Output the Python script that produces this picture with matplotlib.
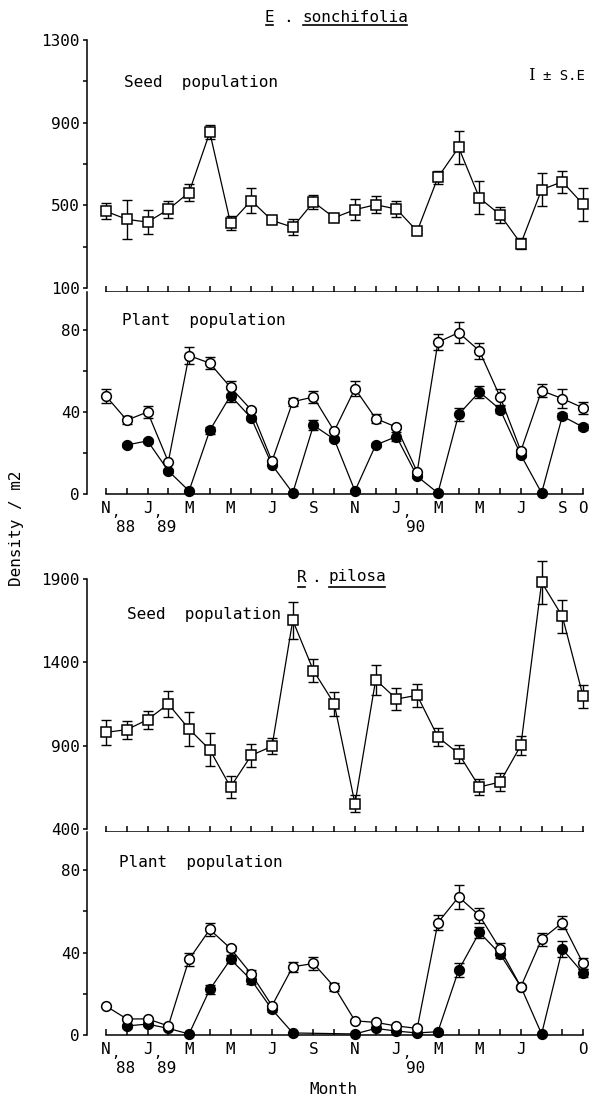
import numpy as np
import matplotlib
matplotlib.use('Agg')
from matplotlib import pyplot as plt
from matplotlib.lines import Line2D

plt.rcParams['font.family'] = ['DejaVu Sans Mono', 'DejaVu Sans']
plt.rcParams['font.size'] = 11.5

nan = np.nan
months = np.arange(24)
# Nov 1988 .. Oct 1990
label_pos = [0, 2, 4, 6, 8, 10, 12, 14, 16, 18, 20, 22, 23]
labels_top = ['N', 'J', 'M', 'M', 'J', 'S', 'N', 'J', 'M', 'M', 'J', 'S', 'O']
labels_bot = ['N', 'J', 'M', 'M', 'J', 'S', 'N', 'J', 'M', 'M', 'J', '', 'O']
year_pos = [0, 2, 14]
year_txt = ['88', '89', '90']

# E. sonchifolia
es_seed = np.array([471, 432, 419, 480, 562, 853, 414, 523, 427, 394, 516, 440,
                    479, 503, 482, 375, 635, 780, 536, 454, 315, 576, 614, 505])
es_seed_se = np.array([39, 95, 60, 39, 40, 34, 35, 60, 10, 40, 35, 10,
                       50, 40, 40, 8, 30, 78, 80, 40, 25, 80, 52, 80])
es_open = np.array([47.7, 36, 40, 15.7, 67.5, 63.8, 52, 41, 16, 45, 47.3, 30.7,
                    51.4, 36.8, 32.6, 10.8, 74, 78.7, 69.8, 47.3, 21, 50.4, 46.5, 42])
es_open_se = np.array([3.5, 2, 3, 0, 4, 3, 3, 1, 0, 2, 3, 0,
                       3.5, 2, 1, 0, 4, 5, 4, 4, 1, 3, 4.5, 3])
es_fill = np.array([nan, 23.9, 25.9, 11.3, 1.5, 31, 48, 37, 14.2, 0.5, 33.5, 26.7,
                    1.5, 23.9, 28, 8.6, 0.5, 38.8, 49.8, 41.2, 19, 0.5, 38, 32.6])
es_fill_se = np.array([0, 1, 1, 1, 0, 1.5, 3, 1, 0, 0, 2.5, 1,
                       0, 1, 2, 1, 0, 3, 3, 1.5, 1, 0, 1.5, 1.5])

# R. pilosa
rp_seed = np.array([980, 996, 1056, 1150, 1000, 876, 652, 842, 896, 1652, 1350, 1152,
                    552, 1296, 1180, 1202, 952, 852, 652, 682, 902, 1880, 1676, 1196])
rp_seed_se = np.array([75, 53, 53, 77, 100, 100, 65, 67, 48, 110, 69, 73,
                       50, 89, 66, 67, 53, 55, 49, 52, 56, 127, 101, 67])
rp_open = np.array([14, 7.8, 7.8, 4.4, 36.7, 51.2, 42, 29.6, 14.2, 33.1, 34.7, 23.4,
                    6.9, 6.1, 4.4, 3.2, 54.5, 67, 58, 41.7, 23.4, 46.4, 54.5, 34.7])
rp_open_se = np.array([0, 0, 0, 0, 3, 3, 1, 2, 0, 2.5, 3, 2,
                       0, 0, 0, 0, 3.5, 6, 3.5, 3, 0, 3, 3, 2.5])
rp_fill = np.array([nan, 4.4, 5.3, 3.2, 0.5, 22.1, 36.7, 26.7, 12.4, 1, nan, nan,
                    0.5, 3.2, 1.9, 1, 1.6, 31.5, 49.8, 39.3, 23.4, 0.5, 41.7, 30])
rp_fill_se = np.array([0, 1, 1, 0, 0, 2, 2, 2, 1, 0, 0, 0,
                       0, 0, 0, 0, 0, 3.5, 2.5, 2, 0, 0, 4, 2])

W, H = 589, 1099
L, R = 87, 586


def rect(top, bot):
    return [L / W, 1 - bot / H, (R - L) / W, (bot - top) / H]


def fx(x):
    return x / W


def fy(y):
    return 1 - y / H


def series(ax, y, se, marker, face, z):
    m = ~np.isnan(y)
    ax.errorbar(months[m], y[m], yerr=se[m], fmt='none', ecolor='k', elinewidth=1,
                capsize=3.5, capthick=1, clip_on=False, zorder=z)
    ax.plot(months[m], y[m], '-', color='k', lw=0.9, marker=marker, ms=7,
            mfc=face, mec='k', mew=1.1, clip_on=False, zorder=z + 1)


def style(ax, ylim, bounds, yticks, ylabels, xlabels=None):
    for s in ['top', 'right']:
        ax.spines[s].set_visible(False)
    ax.spines['left'].set_bounds(*bounds)
    ax.spines['bottom'].set_bounds(0, 23)
    for s in ['left', 'bottom']:
        ax.spines[s].set_linewidth(1.1)
    ax.set_xlim(-0.92, 23.14)
    ax.set_ylim(*ylim)
    ax.set_yticks(yticks, ylabels)
    ax.tick_params(axis='y', direction='out', length=3, width=1.1, pad=2)
    ax.tick_params(axis='x', direction='in', length=4, width=1.1, pad=5)
    if xlabels is None:
        ax.set_xticks(months, [''] * 24)
    else:
        lab = [''] * 24
        for p, t in zip(label_pos, xlabels):
            lab[p] = t
        ax.set_xticks(months, lab)
        for p, t in zip(year_pos, year_txt):
            ax.annotate(',', xy=(p, 0), xycoords=('data', 'axes fraction'),
                        xytext=(7, -16), textcoords='offset points',
                        ha='center', va='baseline', fontsize=10)
            ax.annotate(t, xy=(p, 0), xycoords=('data', 'axes fraction'),
                        xytext=(14, -24), textcoords='offset points',
                        ha='center', va='center')


fig = plt.figure(figsize=(W / 100, H / 100), dpi=100)
ax1 = fig.add_axes(rect(40, 292))
ax2 = fig.add_axes(rect(292, 494))
ax3 = fig.add_axes(rect(562, 832))
ax4 = fig.add_axes(rect(832, 1035))

series(ax1, es_seed, es_seed_se, 's', 'white', 3)
style(ax1, (80.6, 1300), (100, 1300), [100, 300, 500, 700, 900, 1100, 1300],
      ['100', '', '500', '', '900', '', '1300'])

series(ax2, es_fill, es_fill_se, 'o', 'black', 3)
series(ax2, es_open, es_open_se, 'o', 'white', 5)
style(ax2, (0, 98.5), (0, 98.5), [0, 20, 40, 60, 80], ['0', '', '40', '', '80'], labels_top)

series(ax3, rp_seed, rp_seed_se, 's', 'white', 3)
style(ax3, (382, 2002), (400, 1900), [400, 900, 1400, 1900], ['400', '900', '1400', '1900'])

series(ax4, rp_fill, rp_fill_se, 'o', 'black', 3)
series(ax4, rp_open, rp_open_se, 'o', 'white', 5)
style(ax4, (0, 98.5), (0, 98.5), [0, 20, 40, 60, 80], ['0', '', '40', '', '80'], labels_bot)

# panel texts
fig.text(fx(124), fy(83), 'Seed  population', va='center', ha='left')
fig.text(fx(122), fy(320), 'Plant  population', va='center', ha='left')
fig.text(fx(127), fy(615), 'Seed  population', va='center', ha='left')
fig.text(fx(119), fy(863), 'Plant  population', va='center', ha='left')

fig.text(fx(531), fy(76), 'I', family='DejaVu Serif', ha='center', va='center', fontsize=12)
fig.text(fx(543), fy(76), '± S.E', ha='left', va='center', fontsize=10)

fig.text(fx(17), fy(528), 'Density / m2', rotation=90, ha='center', va='center')
fig.text(fx(333), fy(1090), 'Month', ha='center', va='center')

# species titles with underlines
under = []
t = fig.text(fx(265), fy(17), 'E', ha='left', va='center')
under.append((t, 25))
fig.text(fx(288), fy(17), '.', ha='center', va='center')
t = fig.text(fx(302), fy(17), 'sonchifolia', ha='left', va='center')
under.append((t, 25))
t = fig.text(fx(297), fy(577), 'R', ha='left', va='center')
under.append((t, 587))
fig.text(fx(316), fy(577), '.', ha='center', va='center')
t = fig.text(fx(328), fy(577), 'pilosa', ha='left', va='center')
under.append((t, 587))

fig.canvas.draw()
rend = fig.canvas.get_renderer()
for t, yy in under:
    bb = t.get_window_extent(rend)
    fig.add_artist(Line2D([bb.x0 / W + 0.002, bb.x1 / W - 0.002], [fy(yy), fy(yy)],
                          transform=fig.transFigure, color='k', lw=1.2))

fig.savefig('out.png', dpi=100)
